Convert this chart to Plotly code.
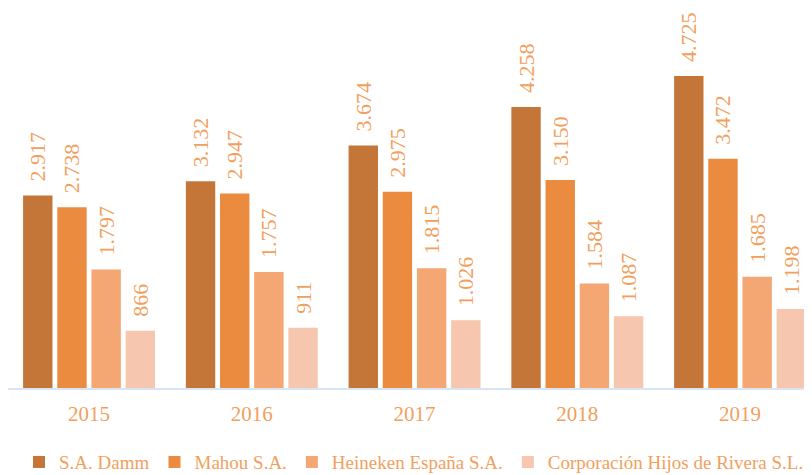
import plotly.graph_objects as go

years = ["2015", "2016", "2017", "2018", "2019"]
damm = [2917, 3132, 3674, 4258, 4725]
mahou = [2738, 2947, 2975, 3150, 3472]
heineken = [1797, 1757, 1815, 1584, 1685]
rivera = [866, 911, 1026, 1087, 1198]

series = [
    ("S.A. Damm", damm, "#C47638"),
    ("Mahou S.A.", mahou, "#EA8B40"),
    ("Heineken España S.A.", heineken, "#F4A673"),
    ("Corporación Hijos de Rivera S.L.", rivera, "#F6C7AE"),
]

txt_color = "#F29F5E"
font_family = "Liberation Serif, Times New Roman, serif"

fig = go.Figure()
for name, vals, col in series:
    fig.add_trace(go.Bar(
        x=years, y=vals, name=name,
        marker=dict(color=col, line=dict(width=0)),
        texttemplate="\u00a0\u00a0%{y:,}",
        textposition="outside",
        textangle=-90,
        constraintext="none",
        cliponaxis=False,
        textfont=dict(color=txt_color, size=22, family=font_family),
    ))

# body has an 8px default margin in the page, so the figure is 804x467
fig.update_layout(
    width=804, height=467,
    margin=dict(l=0, r=0, t=0, b=87, autoexpand=False),
    paper_bgcolor="white", plot_bgcolor="white",
    separators=",.",
    barmode="group",
    bargap=0.16,
    bargroupgap=0.14,
    font=dict(family=font_family, color=txt_color, size=21),
    showlegend=True,
    legend=dict(orientation="h", x=0.505, xanchor="center", y=-0.195, yanchor="middle",
                font=dict(size=19, color=txt_color), itemwidth=30,
                tracegroupgap=0, traceorder="normal"),
)
fig.update_xaxes(showline=True, linecolor="#D9E4F4", linewidth=2, ticks="",
                 range=[-0.498, 4.442], ticklabelstandoff=6,
                 tickfont=dict(size=21, color=txt_color), showgrid=False)
fig.update_yaxes(visible=False, range=[0, 5757], showgrid=False)

fig.write_html("out.html")
